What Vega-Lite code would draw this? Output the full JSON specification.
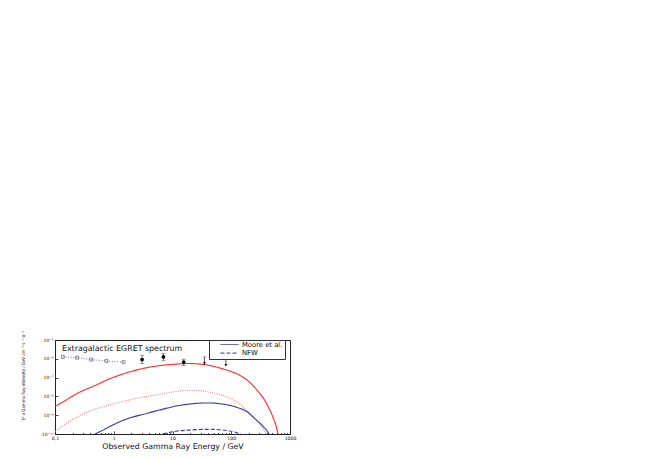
{
  "$schema": "https://vega.github.io/schema/vega-lite/v6.json",
  "autosize": "none",
  "width": 235,
  "height": 94,
  "padding": {"left": 55, "top": 340, "right": 364, "bottom": 24},
  "background": "white",
  "datasets": {
    "curves": [
      {"series": "Moore et al. (boosted)", "E": 0.1, "I": 2.95e-9},
      {"series": "Moore et al. (boosted)", "E": 0.135, "I": 5.0e-9},
      {"series": "Moore et al. (boosted)", "E": 0.25, "I": 1.55e-8},
      {"series": "Moore et al. (boosted)", "E": 0.48, "I": 3.8e-8},
      {"series": "Moore et al. (boosted)", "E": 0.86, "I": 8.7e-8},
      {"series": "Moore et al. (boosted)", "E": 1.66, "I": 1.8e-7},
      {"series": "Moore et al. (boosted)", "E": 3.7, "I": 3.4e-7},
      {"series": "Moore et al. (boosted)", "E": 8.2, "I": 4.8e-7},
      {"series": "Moore et al. (boosted)", "E": 12, "I": 5.25e-7},
      {"series": "Moore et al. (boosted)", "E": 18, "I": 5.6e-7},
      {"series": "Moore et al. (boosted)", "E": 24, "I": 5.5e-7},
      {"series": "Moore et al. (boosted)", "E": 35, "I": 4.9e-7},
      {"series": "Moore et al. (boosted)", "E": 45, "I": 4.27e-7},
      {"series": "Moore et al. (boosted)", "E": 60, "I": 3.4e-7},
      {"series": "Moore et al. (boosted)", "E": 88, "I": 2.4e-7},
      {"series": "Moore et al. (boosted)", "E": 130, "I": 1.5e-7},
      {"series": "Moore et al. (boosted)", "E": 174, "I": 8.7e-8},
      {"series": "Moore et al. (boosted)", "E": 230, "I": 4.0e-8},
      {"series": "Moore et al. (boosted)", "E": 295, "I": 1.66e-8},
      {"series": "Moore et al. (boosted)", "E": 370, "I": 6.3e-9},
      {"series": "Moore et al. (boosted)", "E": 445, "I": 2.1e-9},
      {"series": "Moore et al. (boosted)", "E": 520, "I": 7.1e-10},
      {"series": "Moore et al. (boosted)", "E": 580, "I": 2.7e-10},
      {"series": "Moore et al. (boosted)", "E": 630, "I": 9.1e-11},
      {"series": "Moore et al. (boosted)", "E": 680, "I": 3.2e-11},

      {"series": "NFW (boosted)", "E": 0.1, "I": 1.3e-10},
      {"series": "NFW (boosted)", "E": 0.135, "I": 2.7e-10},
      {"series": "NFW (boosted)", "E": 0.25, "I": 8.9e-10},
      {"series": "NFW (boosted)", "E": 0.48, "I": 2.1e-9},
      {"series": "NFW (boosted)", "E": 1.0, "I": 4.0e-9},
      {"series": "NFW (boosted)", "E": 1.66, "I": 6.0e-9},
      {"series": "NFW (boosted)", "E": 3.7, "I": 1.0e-8},
      {"series": "NFW (boosted)", "E": 6.4, "I": 1.35e-8},
      {"series": "NFW (boosted)", "E": 12, "I": 1.86e-8},
      {"series": "NFW (boosted)", "E": 18, "I": 2.14e-8},
      {"series": "NFW (boosted)", "E": 24, "I": 2.14e-8},
      {"series": "NFW (boosted)", "E": 45, "I": 1.62e-8},
      {"series": "NFW (boosted)", "E": 88, "I": 8.9e-9},
      {"series": "NFW (boosted)", "E": 130, "I": 4.7e-9},
      {"series": "NFW (boosted)", "E": 174, "I": 2.1e-9},
      {"series": "NFW (boosted)", "E": 257, "I": 6.2e-10},
      {"series": "NFW (boosted)", "E": 363, "I": 1.45e-10},
      {"series": "NFW (boosted)", "E": 390, "I": 9.1e-11},
      {"series": "NFW (boosted)", "E": 420, "I": 4.0e-11},

      {"series": "Moore et al.", "E": 0.4, "I": 7.6e-11},
      {"series": "Moore et al.", "E": 0.48, "I": 1.0e-10},
      {"series": "Moore et al.", "E": 0.6, "I": 1.4e-10},
      {"series": "Moore et al.", "E": 1.0, "I": 3.2e-10},
      {"series": "Moore et al.", "E": 1.66, "I": 6.3e-10},
      {"series": "Moore et al.", "E": 3.7, "I": 1.26e-9},
      {"series": "Moore et al.", "E": 5.6, "I": 1.78e-9},
      {"series": "Moore et al.", "E": 8.2, "I": 2.4e-9},
      {"series": "Moore et al.", "E": 12, "I": 3.16e-9},
      {"series": "Moore et al.", "E": 18, "I": 3.8e-9},
      {"series": "Moore et al.", "E": 24, "I": 4.17e-9},
      {"series": "Moore et al.", "E": 35, "I": 4.47e-9},
      {"series": "Moore et al.", "E": 45, "I": 4.47e-9},
      {"series": "Moore et al.", "E": 60, "I": 4.17e-9},
      {"series": "Moore et al.", "E": 88, "I": 3.47e-9},
      {"series": "Moore et al.", "E": 130, "I": 2.5e-9},
      {"series": "Moore et al.", "E": 174, "I": 1.74e-9},
      {"series": "Moore et al.", "E": 257, "I": 6.2e-10},
      {"series": "Moore et al.", "E": 363, "I": 2.2e-10},
      {"series": "Moore et al.", "E": 445, "I": 9.1e-11},
      {"series": "Moore et al.", "E": 480, "I": 5.0e-11},

      {"series": "NFW", "E": 5.5, "I": 8.5e-11},
      {"series": "NFW", "E": 8, "I": 1.12e-10},
      {"series": "NFW", "E": 12, "I": 1.45e-10},
      {"series": "NFW", "E": 18, "I": 1.6e-10},
      {"series": "NFW", "E": 25, "I": 1.7e-10},
      {"series": "NFW", "E": 45, "I": 1.78e-10},
      {"series": "NFW", "E": 88, "I": 1.5e-10},
      {"series": "NFW", "E": 130, "I": 1.1e-10},
      {"series": "NFW", "E": 150, "I": 9.1e-11},
      {"series": "NFW", "E": 170, "I": 6.3e-11}
    ],
    "egret_old": [
      {"E": 0.136, "I": 1.26e-6},
      {"E": 0.238, "I": 1.15e-6},
      {"E": 0.415, "I": 9.1e-7},
      {"E": 0.75, "I": 7.7e-7},
      {"E": 1.47, "I": 6.6e-7}
    ],
    "egret_pts": [
      {"E": 3.04, "I": 9.1e-7, "lo": 5.6e-7, "hi": 1.55e-6},
      {"E": 7.0, "I": 1.26e-6, "lo": 7.8e-7, "hi": 1.9e-6},
      {"E": 15.5, "I": 6.7e-7, "lo": 4.3e-7, "hi": 9.5e-7}
    ],
    "limits": [
      {"E": 35, "hi": 1.26e-6, "lo": 5.6e-7},
      {"E": 81, "hi": 9.5e-7, "lo": 4.5e-7}
    ]
  },
  "layer": [
    {
      "data": {"name": "curves"},
      "mark": {"type": "line", "clip": true, "strokeWidth": 1.1, "interpolate": "monotone"},
      "encoding": {
        "x": {
          "field": "E", "type": "quantitative",
          "scale": {"type": "log", "domain": [0.1, 1000], "nice": false},
          "axis": {
            "title": "Observed Gamma Ray Energy / GeV",
            "values": [0.1,0.2,0.3,0.4,0.5,0.6,0.7,0.8,0.9,1,2,3,4,5,6,7,8,9,10,20,30,40,50,60,70,80,90,100,200,300,400,500,600,700,800,900,1000],
            "labelExpr": "datum.value == 0.1 ? '0,1' : (indexof([1,10,100,1000], datum.value) >= 0 ? format(datum.value, 'd') : '')",
            "tickSize": {"condition": {"test": "indexof([0.1,1,10,100,1000], datum.value) >= 0", "value": -3}, "value": -1.5},
            "tickColor": "#222",
            "tickWidth": 0.8,
            "domainColor": "#222",
            "labelFont": "DejaVu Sans",
            "labelFontSize": 4.6,
            "labelColor": "#111",
            "labelPadding": 4.5,
            "labelFlush": false,
            "labelOverlap": false,
            "titleFont": "DejaVu Sans",
            "titleFontSize": 7.8,
            "titleFontWeight": "normal",
            "titleColor": "#111",
            "titlePadding": 1,
            "grid": false
          }
        },
        "y": {
          "field": "I", "type": "quantitative",
          "scale": {"type": "log", "domain": [1e-10, 1e-5], "nice": false},
          "axis": {
            "title": "E² x Gamma Ray Intensity / GeV cm⁻² s⁻¹ sr⁻¹",
            "values": [1e-10, 1e-9, 1e-8, 1e-7, 1e-6, 1e-5],
            "labelExpr": "'10⁻' + (round(-log(datum.value)/LN10) >= 10 ? '¹⁰' : ['','¹','²','³','⁴','⁵','⁶','⁷','⁸','⁹'][round(-log(datum.value)/LN10)])",
            "tickSize": -3,
            "tickColor": "#222",
            "tickWidth": 0.8,
            "domainColor": "#222",
            "labelFont": "DejaVu Sans",
            "labelFontSize": 4.5,
            "labelColor": "#111",
            "labelPadding": 5,
            "labelOverlap": false,
            "titleFont": "Liberation Sans Narrow, DejaVu Sans Condensed, Liberation Sans",
            "titleFontSize": 4.4,
            "titleFontWeight": "normal",
            "titleColor": "#111",
            "titleX": -32,
            "titleY": 35,
            "titleAngle": -90,
            "titleAlign": "center",
            "titleBaseline": "middle",
            "grid": false
          }
        },
        "color": {
          "field": "series", "type": "nominal",
          "scale": {
            "domain": ["Moore et al.", "NFW", "Moore et al. (boosted)", "NFW (boosted)"],
            "range": ["#3b3b94", "#2f2fa0", "#ff2a2a", "#ff7a7a"]
          },
          "legend": {
            "values": ["Moore et al.", "NFW"],
            "title": null,
            "orient": "none",
            "legendX": 154,
            "legendY": 0,
            "symbolType": "stroke",
            "symbolSize": 324,
            "symbolStrokeWidth": 1,
            "symbolOffset": 9,
            "clipHeight": 5,
            "rowPadding": 0.6,
            "padding": 2,
            "labelOffset": 3,
            "labelFont": "DejaVu Sans",
            "labelFontSize": 6.8,
            "labelColor": "#111",
            "strokeColor": "#333",
            "fillColor": "white"
          }
        },
        "strokeDash": {
          "field": "series", "type": "nominal",
          "scale": {
            "domain": ["Moore et al.", "NFW", "Moore et al. (boosted)", "NFW (boosted)"],
            "range": [[1, 0], [4, 2], [1, 0], [1, 1.3]]
          },
          "legend": {
            "values": ["Moore et al.", "NFW"],
            "title": null,
            "orient": "none",
            "legendX": 154,
            "legendY": 0,
            "symbolType": "stroke",
            "symbolSize": 324,
            "symbolStrokeWidth": 1,
            "symbolOffset": 9,
            "clipHeight": 5,
            "rowPadding": 0.6,
            "padding": 2,
            "labelOffset": 3,
            "labelFont": "DejaVu Sans",
            "labelFontSize": 6.8,
            "labelColor": "#111",
            "strokeColor": "#333",
            "fillColor": "white"
          }
        }
      }
    },
    {
      "data": {"name": "egret_old"},
      "mark": {"type": "line", "color": "#5b5bd0", "strokeWidth": 0.9, "strokeDash": [1, 1.6]},
      "encoding": {
        "x": {"field": "E", "type": "quantitative"},
        "y": {"field": "I", "type": "quantitative"}
      }
    },
    {
      "data": {"name": "egret_old"},
      "mark": {"type": "point", "shape": "square", "filled": false, "size": 9, "color": "#444460", "strokeWidth": 0.6, "opacity": 1},
      "encoding": {
        "x": {"field": "E", "type": "quantitative"},
        "y": {"field": "I", "type": "quantitative"}
      }
    },
    {
      "data": {"name": "egret_pts"},
      "mark": {"type": "rule", "color": "#555", "strokeWidth": 0.8},
      "encoding": {
        "x": {"field": "E", "type": "quantitative"},
        "y": {"field": "lo", "type": "quantitative"},
        "y2": {"field": "hi"}
      }
    },
    {
      "data": {"name": "egret_pts"},
      "mark": {"type": "tick", "orient": "horizontal", "color": "#555", "size": 4, "thickness": 0.8},
      "encoding": {
        "x": {"field": "E", "type": "quantitative"},
        "y": {"field": "hi", "type": "quantitative"}
      }
    },
    {
      "data": {"name": "egret_pts"},
      "mark": {"type": "tick", "orient": "horizontal", "color": "#555", "size": 4, "thickness": 0.8},
      "encoding": {
        "x": {"field": "E", "type": "quantitative"},
        "y": {"field": "lo", "type": "quantitative"}
      }
    },
    {
      "data": {"name": "egret_pts"},
      "mark": {"type": "point", "shape": "circle", "filled": true, "size": 14, "color": "#000", "opacity": 1},
      "encoding": {
        "x": {"field": "E", "type": "quantitative"},
        "y": {"field": "I", "type": "quantitative"}
      }
    },
    {
      "data": {"name": "limits"},
      "mark": {"type": "rule", "color": "#333", "strokeWidth": 0.8},
      "encoding": {
        "x": {"field": "E", "type": "quantitative"},
        "y": {"field": "lo", "type": "quantitative"},
        "y2": {"field": "hi"}
      }
    },
    {
      "data": {"name": "limits"},
      "mark": {"type": "tick", "orient": "horizontal", "color": "#555", "size": 4, "thickness": 0.8},
      "encoding": {
        "x": {"field": "E", "type": "quantitative"},
        "y": {"field": "hi", "type": "quantitative"}
      }
    },
    {
      "data": {"name": "limits"},
      "mark": {"type": "point", "shape": "triangle-down", "filled": true, "size": 8, "color": "#000", "opacity": 1},
      "encoding": {
        "x": {"field": "E", "type": "quantitative"},
        "y": {"field": "lo", "type": "quantitative"}
      }
    },
    {
      "data": {"values": [{"label": "Extragalactic EGRET spectrum"}]},
      "mark": {"type": "text", "align": "left", "baseline": "middle", "font": "DejaVu Sans", "fontSize": 7.9, "color": "#111"},
      "encoding": {
        "x": {"datum": 0.131, "type": "quantitative"},
        "y": {"datum": 3.3e-6, "type": "quantitative"},
        "text": {"field": "label", "type": "nominal"}
      }
    }
  ],
  "config": {
    "view": {"stroke": "#222", "strokeWidth": 1},
    "axis": {"domainWidth": 1}
  }
}
